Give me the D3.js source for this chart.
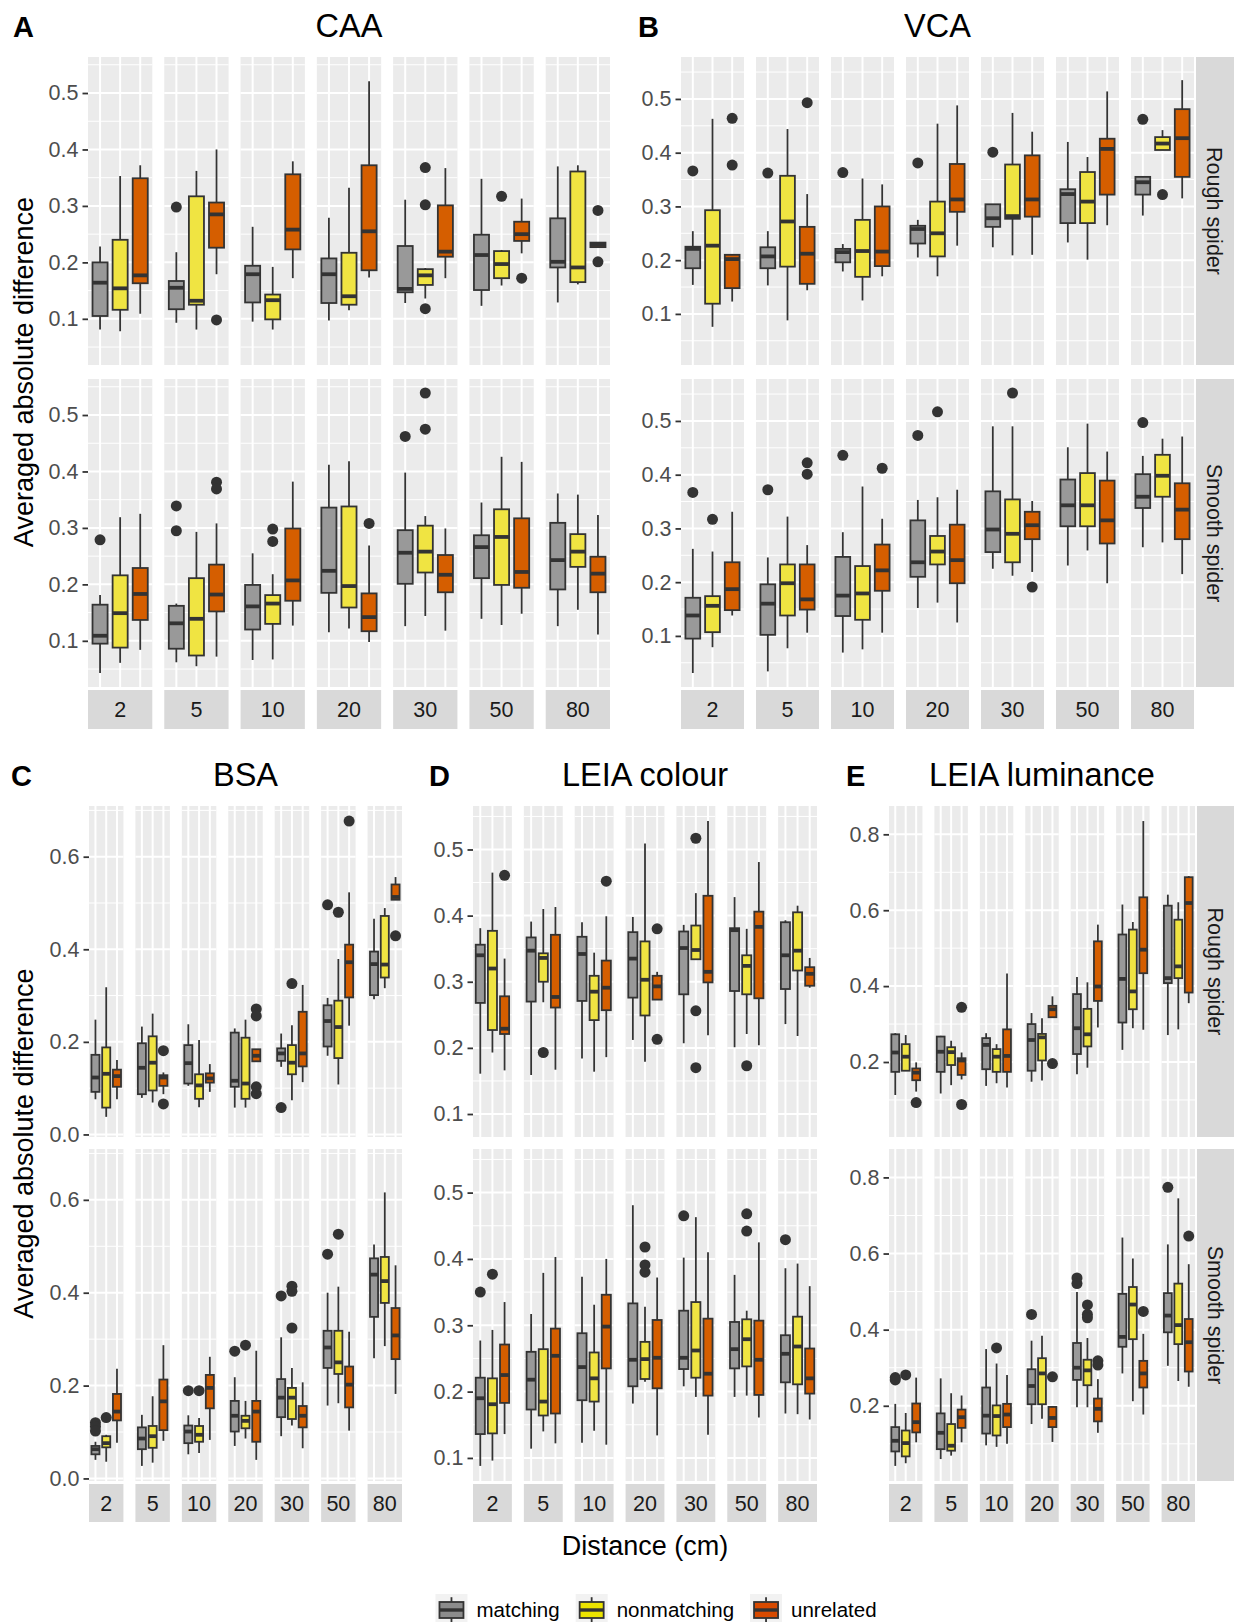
<!DOCTYPE html>
<html>
<head>
<meta charset="utf-8">
<script src="https://cdn.jsdelivr.net/npm/d3@7"></script>
<style>
  body { margin: 0; background: #fff; }
  svg { display: block; }
  text { font-family: "Liberation Sans", Arial, Helvetica, sans-serif; }
</style>
</head>
<body>
<svg id="fig" width="1234" height="1622"></svg>
<script>
// ---- categories ----
const distances = ["2", "5", "10", "20", "30", "50", "80"];
const groups = ["matching", "nonmatching", "unrelated"];
const textures = ["Rough spider", "Smooth spider"];
const panelTags = ["A", "B", "C", "D", "E"];
const panelTitles = ["CAA", "VCA", "BSA", "LEIA colour", "LEIA luminance"];
const xTitle = "Distance (cm)";
const yTitle = "Averaged absolute difference";

// ---- box statistics per distance: [lower whisker, Q1, median, Q3, upper whisker, outliers] ----
// order inside each distance: matching, nonmatching, unrelated
const caaRough = [
  [[0.081,0.105,0.164,0.200,0.228,[]], [0.078,0.116,0.154,0.240,0.353,[]], [0.109,0.163,0.177,0.349,0.372,[]]],
  [[0.093,0.117,0.155,0.167,0.218,[0.298]], [0.081,0.125,0.132,0.317,0.362,[]], [0.179,0.226,0.285,0.306,0.400,[0.098]]],
  [[0.095,0.129,0.179,0.194,0.263,[]], [0.081,0.099,0.133,0.143,0.192,[]], [0.172,0.223,0.258,0.356,0.379,[]]],
  [[0.097,0.128,0.179,0.207,0.279,[]], [0.115,0.125,0.140,0.217,0.332,[]], [0.173,0.186,0.255,0.372,0.521,[]]],
  [[0.128,0.147,0.153,0.229,0.311,[]], [0.136,0.160,0.177,0.188,0.190,[0.368,0.302,0.118]], [0.172,0.210,0.219,0.301,0.367,[]]],
  [[0.123,0.151,0.213,0.249,0.348,[]], [0.159,0.172,0.197,0.220,0.222,[0.317]], [0.216,0.238,0.250,0.272,0.313,[0.172]]],
  [[0.129,0.191,0.201,0.278,0.370,[]], [0.161,0.165,0.191,0.361,0.372,[]], [0.227,0.227,0.231,0.235,0.235,[0.292,0.201]]]
];
const caaSmooth = [
  [[0.043,0.095,0.109,0.164,0.181,[0.279]], [0.061,0.088,0.149,0.216,0.319,[]], [0.084,0.137,0.183,0.229,0.325,[]]],
  [[0.062,0.086,0.131,0.162,0.166,[0.339,0.295]], [0.055,0.074,0.139,0.211,0.293,[]], [0.072,0.152,0.182,0.235,0.308,[0.381,0.369]]],
  [[0.066,0.120,0.161,0.199,0.255,[]], [0.067,0.130,0.166,0.181,0.218,[0.298,0.276]], [0.127,0.171,0.207,0.299,0.382,[]]],
  [[0.115,0.185,0.224,0.336,0.412,[]], [0.122,0.159,0.197,0.338,0.418,[]], [0.098,0.117,0.142,0.184,0.269,[0.308]]],
  [[0.126,0.201,0.256,0.296,0.398,[0.462]], [0.144,0.221,0.258,0.304,0.321,[0.539,0.475]], [0.118,0.186,0.217,0.252,0.299,[]]],
  [[0.139,0.211,0.266,0.287,0.345,[]], [0.128,0.199,0.284,0.333,0.426,[]], [0.148,0.194,0.222,0.317,0.417,[]]],
  [[0.126,0.191,0.243,0.309,0.361,[]], [0.155,0.231,0.258,0.289,0.359,[]], [0.111,0.186,0.219,0.249,0.323,[]]]
];
const vcaRough = [
  [[0.154,0.185,0.221,0.225,0.254,[0.366]], [0.076,0.119,0.227,0.293,0.463,[]], [0.123,0.148,0.202,0.210,0.210,[0.464,0.377]]],
  [[0.153,0.185,0.207,0.224,0.254,[0.362]], [0.088,0.188,0.272,0.357,0.444,[]], [0.144,0.156,0.212,0.262,0.323,[0.493]]],
  [[0.179,0.196,0.215,0.221,0.230,[0.363]], [0.125,0.169,0.217,0.275,0.352,[]], [0.170,0.189,0.216,0.300,0.341,[]]],
  [[0.205,0.231,0.258,0.264,0.275,[0.381]], [0.170,0.207,0.250,0.309,0.454,[]], [0.227,0.290,0.313,0.379,0.488,[]]],
  [[0.224,0.262,0.278,0.304,0.304,[0.401]], [0.209,0.277,0.282,0.378,0.474,[]], [0.210,0.281,0.313,0.395,0.439,[]]],
  [[0.233,0.269,0.323,0.332,0.420,[]], [0.201,0.269,0.309,0.364,0.392,[]], [0.265,0.322,0.407,0.426,0.514,[]]],
  [[0.283,0.322,0.345,0.355,0.355,[0.462]], [0.405,0.405,0.417,0.429,0.442,[0.322]], [0.315,0.355,0.427,0.481,0.535,[]]]
];
const vcaSmooth = [
  [[0.031,0.095,0.138,0.171,0.262,[0.367]], [0.079,0.107,0.156,0.174,0.257,[0.317]], [0.138,0.148,0.187,0.237,0.331,[]]],
  [[0.034,0.102,0.160,0.196,0.246,[0.372]], [0.077,0.138,0.198,0.233,0.322,[]], [0.106,0.149,0.168,0.233,0.269,[0.422,0.401]]],
  [[0.069,0.137,0.175,0.247,0.293,[0.436]], [0.075,0.130,0.179,0.230,0.378,[]], [0.106,0.184,0.222,0.270,0.318,[0.412]]],
  [[0.152,0.210,0.237,0.315,0.353,[0.473]], [0.162,0.233,0.257,0.286,0.358,[0.517]], [0.125,0.198,0.241,0.307,0.372,[]]],
  [[0.225,0.256,0.298,0.369,0.490,[]], [0.212,0.237,0.290,0.354,0.490,[0.552]], [0.219,0.280,0.306,0.331,0.351,[0.191]]],
  [[0.231,0.304,0.343,0.391,0.451,[]], [0.259,0.304,0.343,0.403,0.495,[]], [0.198,0.272,0.315,0.389,0.443,[]]],
  [[0.265,0.338,0.359,0.401,0.435,[0.497]], [0.274,0.359,0.398,0.437,0.467,[]], [0.215,0.280,0.335,0.384,0.471,[]]]
];
const bsaRough = [
  [[0.076,0.092,0.123,0.172,0.248,[]], [0.038,0.058,0.131,0.188,0.318,[]], [0.076,0.103,0.126,0.140,0.161,[]]],
  [[0.079,0.087,0.144,0.197,0.233,[]], [0.069,0.095,0.155,0.212,0.261,[]], [0.087,0.105,0.123,0.128,0.134,[0.181,0.066]]],
  [[0.105,0.110,0.154,0.193,0.238,[]], [0.059,0.077,0.106,0.130,0.204,[]], [0.092,0.112,0.121,0.132,0.152,[]]],
  [[0.058,0.103,0.116,0.220,0.229,[]], [0.058,0.077,0.110,0.209,0.248,[]], [0.158,0.158,0.170,0.184,0.184,[0.271,0.256,0.103,0.088]]],
  [[0.146,0.159,0.175,0.186,0.218,[0.058]], [0.074,0.130,0.155,0.193,0.236,[0.326]], [0.113,0.147,0.175,0.265,0.323,[]]],
  [[0.170,0.190,0.245,0.279,0.295,[0.496]], [0.108,0.165,0.232,0.289,0.379,[0.480]], [0.235,0.296,0.372,0.410,0.523,[0.677]]],
  [[0.292,0.301,0.368,0.395,0.466,[]], [0.316,0.339,0.367,0.472,0.489,[]], [0.507,0.507,0.513,0.540,0.556,[0.429]]]
];
const bsaSmooth = [
  [[0.040,0.052,0.063,0.070,0.079,[0.120,0.112,0.102]], [0.036,0.067,0.076,0.091,0.094,[0.131]], [0.077,0.125,0.144,0.182,0.236,[]]],
  [[0.027,0.063,0.086,0.110,0.137,[]], [0.034,0.066,0.091,0.113,0.177,[]], [0.081,0.104,0.166,0.213,0.287,[]]],
  [[0.052,0.076,0.101,0.114,0.136,[0.189]], [0.055,0.079,0.094,0.113,0.130,[0.189]], [0.083,0.151,0.195,0.223,0.262,[]]],
  [[0.070,0.101,0.135,0.167,0.218,[0.274]], [0.086,0.108,0.124,0.135,0.167,[0.287]], [0.040,0.079,0.144,0.167,0.275,[]]],
  [[0.091,0.132,0.174,0.214,0.304,[0.393]], [0.114,0.128,0.174,0.195,0.238,[0.414,0.403,0.324]], [0.065,0.110,0.135,0.156,0.207,[]]],
  [[0.157,0.238,0.282,0.318,0.400,[0.483]], [0.162,0.225,0.250,0.318,0.413,[0.526]], [0.103,0.153,0.202,0.241,0.316,[]]],
  [[0.259,0.348,0.439,0.474,0.504,[]], [0.285,0.378,0.425,0.477,0.616,[]], [0.182,0.257,0.308,0.367,0.459,[]]]
];
const leiaColourRough = [
  [[0.161,0.268,0.340,0.356,0.381,[]], [0.193,0.227,0.320,0.377,0.465,[]], [0.166,0.221,0.229,0.278,0.335,[0.461]]],
  [[0.159,0.270,0.347,0.367,0.391,[]], [0.269,0.300,0.336,0.343,0.410,[0.193]], [0.167,0.261,0.277,0.371,0.413,[]]],
  [[0.184,0.271,0.342,0.368,0.390,[]], [0.164,0.242,0.285,0.309,0.344,[]], [0.186,0.257,0.291,0.332,0.399,[0.452]]],
  [[0.212,0.276,0.335,0.375,0.398,[]], [0.179,0.249,0.303,0.361,0.509,[]], [0.273,0.273,0.293,0.309,0.315,[0.380,0.213]]],
  [[0.207,0.281,0.351,0.376,0.386,[]], [0.334,0.334,0.348,0.385,0.434,[0.517,0.256,0.170]], [0.219,0.299,0.315,0.430,0.543,[]]],
  [[0.201,0.286,0.378,0.381,0.428,[]], [0.221,0.281,0.324,0.340,0.380,[0.173]], [0.204,0.275,0.383,0.406,0.481,[]]],
  [[0.236,0.289,0.340,0.390,0.393,[]], [0.218,0.317,0.347,0.405,0.415,[]], [0.291,0.294,0.312,0.322,0.336,[]]]
];
const leiaColourSmooth = [
  [[0.088,0.136,0.190,0.221,0.277,[0.350]], [0.096,0.137,0.181,0.220,0.293,[0.377]], [0.136,0.183,0.225,0.271,0.335,[]]],
  [[0.114,0.173,0.218,0.260,0.317,[]], [0.140,0.164,0.185,0.264,0.379,[]], [0.122,0.167,0.254,0.295,0.403,[]]],
  [[0.123,0.187,0.237,0.288,0.373,[]], [0.141,0.185,0.220,0.259,0.331,[]], [0.120,0.235,0.298,0.346,0.400,[]]],
  [[0.182,0.208,0.248,0.333,0.481,[]], [0.215,0.219,0.249,0.275,0.328,[0.418,0.391,0.380]], [0.134,0.205,0.251,0.308,0.372,[]]],
  [[0.208,0.234,0.251,0.322,0.402,[0.465]], [0.192,0.221,0.262,0.335,0.463,[]], [0.135,0.194,0.227,0.310,0.410,[]]],
  [[0.192,0.235,0.264,0.305,0.376,[]], [0.194,0.238,0.279,0.309,0.322,[0.468,0.442]], [0.161,0.195,0.248,0.307,0.425,[]]],
  [[0.167,0.214,0.257,0.285,0.386,[0.429]], [0.166,0.211,0.268,0.313,0.393,[]], [0.158,0.197,0.220,0.265,0.359,[]]]
];
const leiaLumRough = [
  [[0.113,0.174,0.225,0.273,0.276,[]], [0.177,0.177,0.214,0.247,0.271,[]], [0.122,0.152,0.172,0.183,0.199,[0.093]]],
  [[0.117,0.174,0.227,0.267,0.269,[]], [0.139,0.192,0.226,0.239,0.256,[]], [0.154,0.166,0.204,0.210,0.225,[0.344,0.088]]],
  [[0.137,0.181,0.245,0.263,0.276,[]], [0.144,0.174,0.214,0.234,0.247,[]], [0.133,0.174,0.216,0.286,0.433,[]]],
  [[0.148,0.177,0.258,0.300,0.329,[]], [0.151,0.204,0.265,0.274,0.315,[]], [0.318,0.318,0.339,0.348,0.373,[0.196]]],
  [[0.168,0.221,0.289,0.379,0.424,[]], [0.185,0.241,0.273,0.340,0.410,[]], [0.291,0.361,0.399,0.518,0.562,[]]],
  [[0.232,0.304,0.419,0.536,0.615,[]], [0.289,0.339,0.386,0.549,0.569,[]], [0.285,0.434,0.496,0.634,0.835,[]]],
  [[0.271,0.408,0.421,0.612,0.641,[]], [0.286,0.421,0.452,0.575,0.621,[]], [0.355,0.383,0.619,0.687,0.690,[]]]
];
const leiaLumSmooth = [
  [[0.042,0.080,0.108,0.144,0.205,[0.274,0.268]], [0.049,0.067,0.102,0.135,0.181,[0.281]], [0.104,0.130,0.157,0.206,0.274,[]]],
  [[0.060,0.086,0.129,0.180,0.272,[]], [0.069,0.082,0.095,0.152,0.233,[]], [0.104,0.142,0.170,0.190,0.227,[]]],
  [[0.096,0.127,0.174,0.248,0.349,[]], [0.092,0.122,0.173,0.201,0.311,[0.352]], [0.100,0.144,0.177,0.205,0.281,[]]],
  [[0.152,0.204,0.252,0.296,0.371,[0.440]], [0.166,0.204,0.285,0.325,0.384,[]], [0.105,0.144,0.168,0.197,0.197,[0.276]]],
  [[0.196,0.268,0.300,0.365,0.499,[0.536,0.521]], [0.196,0.254,0.293,0.321,0.378,[0.465,0.440,0.431]], [0.129,0.159,0.192,0.219,0.270,[0.318,0.307]]],
  [[0.285,0.355,0.381,0.494,0.642,[]], [0.212,0.375,0.466,0.512,0.587,[]], [0.177,0.248,0.285,0.318,0.389,[0.448]]],
  [[0.305,0.393,0.437,0.496,0.624,[0.774]], [0.265,0.362,0.412,0.521,0.745,[]], [0.250,0.290,0.367,0.428,0.572,[0.646]]]
];

// ---- figure layout (pixels) ----
const upperRows = [[57, 365], [379, 687]];
const lowerRows = [[806, 1137], [1149, 1481]];
const layout = [
  { data: [caaRough, caaSmooth], x0: 88, x1: 610, rows: upperRows, strip: [690, 729], side: false, yLab: true, tagX: 13, headY: 37 },
  { data: [vcaRough, vcaSmooth], x0: 681, x1: 1194, rows: upperRows, strip: [690, 729], side: true, yLab: false, tagX: 638, headY: 37 },
  { data: [bsaRough, bsaSmooth], x0: 89, x1: 402, rows: lowerRows, strip: [1484, 1522], side: false, yLab: true, tagX: 11, headY: 786 },
  { data: [leiaColourRough, leiaColourSmooth], x0: 473, x1: 817, rows: lowerRows, strip: [1484, 1522], side: false, yLab: false, tagX: 429, headY: 786 },
  { data: [leiaLumRough, leiaLumSmooth], x0: 889, x1: 1195, rows: lowerRows, strip: [1484, 1522], side: true, yLab: false, tagX: 846, headY: 786 }
];

const FILL = { matching: "#999999", nonmatching: "#F0E442", unrelated: "#D55E00" };
const KEY_FILL = { matching: "#8c8c8c", nonmatching: "#ece400", unrelated: "#d84a00" };
const INK = "#333333";
const PANEL_BG = "#EBEBEB";
const STRIP_BG = "#D9D9D9";
const GAP = 12;
const AXIS_FONT = 21.5;

const svg = d3.select("#fig");
svg.append("rect").attr("width", 1234).attr("height", 1622).attr("fill", "#fff");

layout.forEach((p, pi) => {
  const g = svg.append("g").attr("class", "panel-" + panelTags[pi]);

  // shared y domain for both texture rows, with 5% expansion
  const vals = p.data.flatMap(rowData => rowData.flatMap(f => f.flatMap(b => [b[0], b[1], b[2], b[3], b[4], ...b[5]])));
  const lo = d3.min(vals), hi = d3.max(vals), ex = (hi - lo) * 0.05;

  const n = distances.length;
  const fx = d3.scaleBand().domain(distances).range([p.x0, p.x1])
    .paddingInner(n * GAP / (p.x1 - p.x0 + GAP)).paddingOuter(0);
  const gx = d3.scalePoint().domain(groups).range([0, fx.bandwidth()]).padding(0.6);
  const boxW = gx.step() * 0.75;

  p.rows.forEach(([top, bot], r) => {
    const y = d3.scaleLinear().domain([lo - ex, hi + ex]).range([bot, top]);
    const major = y.ticks(5);
    const stp = major[1] - major[0];
    const ext = [major[0] - stp, ...major, major[major.length - 1] + stp];
    const minor = [];
    for (let i = 0; i < ext.length - 1; i++) {
      const m = (ext[i] + ext[i + 1]) / 2;
      if (m >= y.domain()[0] && m <= y.domain()[1]) minor.push(m);
    }

    distances.forEach((d, di) => {
      const fg = g.append("g").attr("transform", `translate(${fx(d)},0)`);
      const w = fx.bandwidth();
      fg.append("rect").attr("x", 0).attr("y", top).attr("width", w).attr("height", bot - top).attr("fill", PANEL_BG);

      fg.selectAll(".minor").data(minor).join("line")
        .attr("x1", 0).attr("x2", w).attr("y1", v => y(v)).attr("y2", v => y(v))
        .attr("stroke", "#fff").attr("stroke-width", 1);
      fg.selectAll(".major").data(major).join("line")
        .attr("x1", 0).attr("x2", w).attr("y1", v => y(v)).attr("y2", v => y(v))
        .attr("stroke", "#fff").attr("stroke-width", 2);
      fg.selectAll(".vgrid").data(groups).join("line")
        .attr("x1", k => gx(k)).attr("x2", k => gx(k)).attr("y1", top).attr("y2", bot)
        .attr("stroke", "#fff").attr("stroke-width", 2);

      const boxes = p.data[r][di];
      boxes.forEach((b, gi) => {
        const cx = gx(groups[gi]);
        const [wl, q1, md, q3, wh, outs] = b;
        fg.selectAll(null).data(outs).join("circle")
          .attr("cx", cx).attr("cy", v => y(v)).attr("r", 5.5).attr("fill", INK);
        fg.append("line").attr("x1", cx).attr("x2", cx).attr("y1", y(q3)).attr("y2", y(wh))
          .attr("stroke", INK).attr("stroke-width", 1.8);
        fg.append("line").attr("x1", cx).attr("x2", cx).attr("y1", y(q1)).attr("y2", y(wl))
          .attr("stroke", INK).attr("stroke-width", 1.8);
        fg.append("rect").attr("x", cx - boxW / 2).attr("width", boxW)
          .attr("y", y(q3)).attr("height", Math.max(0, y(q1) - y(q3)))
          .attr("fill", FILL[groups[gi]]).attr("stroke", INK).attr("stroke-width", 1.8);
        fg.append("line").attr("x1", cx - boxW / 2).attr("x2", cx + boxW / 2)
          .attr("y1", y(md)).attr("y2", y(md)).attr("stroke", INK).attr("stroke-width", 3.8);
      });
    });

    // y axis
    const ax = g.append("g").attr("transform", `translate(${p.x0},0)`)
      .call(d3.axisLeft(y).tickValues(major).tickSize(5.5).tickPadding(4).tickFormat(d3.format(".1f")));
    ax.select(".domain").remove();
    ax.selectAll(".tick line").attr("stroke", INK).attr("stroke-width", 1.8);
    ax.selectAll(".tick text").attr("fill", "#4D4D4D").attr("font-size", AXIS_FONT)
      .attr("font-family", '"Liberation Sans", Arial, sans-serif');

    // texture strip on the right
    if (p.side) {
      const sx = p.x1 + 2;
      g.append("rect").attr("x", sx).attr("y", top).attr("width", 1234 - sx + 2).attr("height", bot - top).attr("fill", STRIP_BG);
      g.append("text").attr("transform", `translate(${(sx + 1234) / 2},${(top + bot) / 2}) rotate(90)`)
        .attr("text-anchor", "middle").attr("dy", "0.35em")
        .attr("font-size", AXIS_FONT).attr("fill", "#1A1A1A").text(textures[r]);
    }
  });

  // distance strips at the bottom
  distances.forEach(d => {
    g.append("rect").attr("x", fx(d)).attr("y", p.strip[0]).attr("width", fx.bandwidth())
      .attr("height", p.strip[1] - p.strip[0]).attr("fill", STRIP_BG);
    g.append("text").attr("x", fx(d) + fx.bandwidth() / 2).attr("y", (p.strip[0] + p.strip[1]) / 2)
      .attr("dy", "0.36em").attr("text-anchor", "middle").attr("font-size", AXIS_FONT)
      .attr("fill", "#1A1A1A").text(d);
  });

  // tag and title
  g.append("text").attr("x", p.tagX).attr("y", p.headY).attr("font-size", 29).attr("font-weight", "bold")
    .attr("fill", "#000").text(panelTags[pi]);
  g.append("text").attr("x", (p.x0 + p.x1) / 2).attr("y", p.headY).attr("text-anchor", "middle")
    .attr("font-size", 32.5).attr("fill", "#000").text(panelTitles[pi]);

  if (p.yLab) {
    const cy = (p.rows[0][0] + p.rows[1][1]) / 2;
    g.append("text").attr("transform", `translate(24,${cy}) rotate(-90)`)
      .attr("text-anchor", "middle").attr("dy", "0.35em").attr("font-size", 27).attr("fill", "#000").text(yTitle);
  }
});

// x axis title under the middle panel
svg.append("text").attr("x", (layout[3].x0 + layout[3].x1) / 2).attr("y", 1555)
  .attr("text-anchor", "middle").attr("font-size", 27).attr("fill", "#000").text(xTitle);

// legend
const legend = svg.append("g");
const keySize = 32, keyTop = 1594, textGap = 9, itemGap = 16, legendFont = 20.5;
const widths = groups.map(k => {
  const t = legend.append("text").attr("font-size", legendFont).text(k);
  const wdt = t.node().getComputedTextLength();
  t.remove();
  return wdt;
});
const total = d3.sum(widths) + groups.length * (keySize + textGap) + (groups.length - 1) * itemGap;
let lx = 656 - total / 2;
groups.forEach((k, i) => {
  const kg = legend.append("g").attr("transform", `translate(${lx},${keyTop})`);
  kg.append("rect").attr("width", keySize).attr("height", keySize).attr("fill", "#F2F2F2");
  const c = keySize / 2;
  kg.append("line").attr("x1", c).attr("x2", c).attr("y1", keySize * 0.1).attr("y2", keySize * 0.9)
    .attr("stroke", INK).attr("stroke-width", 1.8);
  kg.append("rect").attr("x", keySize * 0.125).attr("y", keySize * 0.25).attr("width", keySize * 0.75).attr("height", keySize * 0.5)
    .attr("fill", KEY_FILL[k]).attr("stroke", INK).attr("stroke-width", 1.8);
  kg.append("line").attr("x1", keySize * 0.125).attr("x2", keySize * 0.875).attr("y1", c).attr("y2", c)
    .attr("stroke", INK).attr("stroke-width", 3.4);
  legend.append("text").attr("x", lx + keySize + textGap).attr("y", keyTop + c).attr("dy", "0.36em")
    .attr("font-size", legendFont).attr("fill", "#000").text(k);
  lx += keySize + textGap + widths[i] + itemGap;
});
</script>
</body>
</html>
